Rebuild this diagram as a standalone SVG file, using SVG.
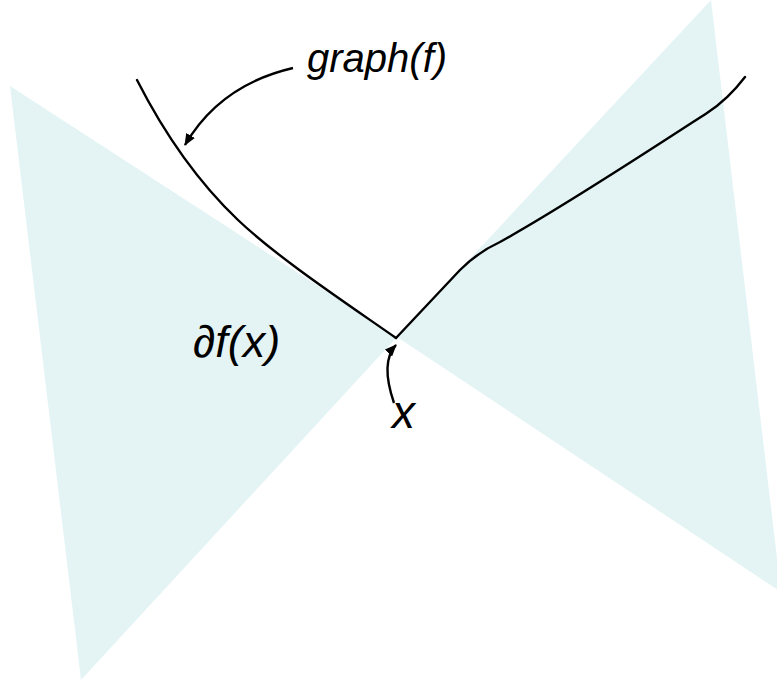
<svg xmlns="http://www.w3.org/2000/svg" width="777" height="686" viewBox="0 0 777 686">
<style>
.cone{fill:#e4f4f5;stroke:none}
.curve{fill:none;stroke:#000;stroke-width:2.4;stroke-linejoin:round;stroke-linecap:round}
.arr{fill:none;stroke:#000;stroke-width:2.4}
.lbl{font-family:"Liberation Sans",Arial,sans-serif;font-style:italic;fill:#000}
</style>
<defs>
<marker id="ah" viewBox="0 0 12 10" refX="11" refY="5" markerWidth="12" markerHeight="10" markerUnits="userSpaceOnUse" orient="auto">
<path d="M0,0 L12,5 L0,10 Z" fill="#000"/>
</marker>
</defs>
<g id="subdifferential-cone">
<polygon class="cone" points="10,86 397,337 81,680"/>
<polygon class="cone" points="397,337 711,0 781,592"/>
</g>
<g id="graph">
<path class="curve" d="M137,80 C165,135 198,182 238,220 C278,258 346,303 396,338"/>
<path class="curve" d="M396,338 L460,270 Q478,252 500,242 C560,209 650,150 707,113 Q728,99.4 745,77"/>
</g>
<g id="connectors">
<path class="arr" d="M293,68 Q220,85 185,145" marker-end="url(#ah)"/>
<path class="arr" d="M394,403 Q380,362 396,345" marker-end="url(#ah)"/>
</g>
<g id="label-graph">
<text class="lbl" x="307" y="72" font-size="40">graph(f)</text>
</g>
<g id="label-subdiff">
<text class="lbl" x="193" y="357" font-size="45">∂f(x)</text>
</g>
<g id="label-x">
<text class="lbl" x="392" y="428" font-size="46">x</text>
</g>
</svg>
